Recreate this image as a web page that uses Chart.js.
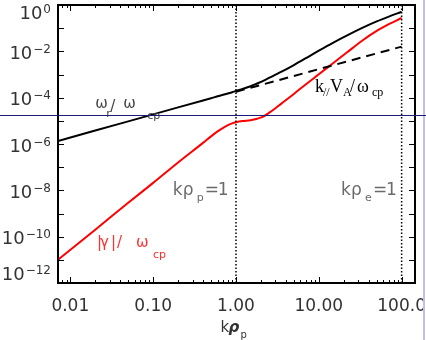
<!DOCTYPE html>
<html>
<head>
<meta charset="utf-8">
<script src="https://cdn.jsdelivr.net/npm/chart.js@4.4.1/dist/chart.umd.min.js"></script>
<style>
  html, body { margin: 0; padding: 0; background: #fff; }
  #wrap { width: 426px; height: 340px; position: relative; }
</style>
</head>
<body>
<div id="wrap"><canvas id="myChart"></canvas></div>
<script>
// k rho_p sampled along the curves
var kRho = [0.0071, 0.02, 0.05, 0.1, 0.2, 0.4, 0.5, 0.6, 0.7, 0.8, 0.9, 1.0, 1.2, 1.5, 1.8, 2.1, 2.5, 3.0, 3.5, 5, 7, 10, 15, 22, 33, 50, 70, 100];
// omega_r / omega_cp (black)
var omegaR = [1.35e-6, 3.8e-6, 9.5e-6, 1.9e-5, 3.8e-5, 7.6e-5, 9.5e-5, 1.15e-4, 1.33e-4, 1.52e-4, 1.72e-4, 1.95e-4, 2.35e-4, 3.1e-4, 4.1e-4, 5.2e-4, 7.1e-4, 9.8e-4, 1.29e-3, 2.57e-3, 5.1e-3, 1.07e-2, 2.4e-2, 4.9e-2, 0.10, 0.195, 0.316, 0.51];
// |gamma| / omega_cp (red)
var gammaAbs = [1.0e-11, 2.0e-10, 2.9e-9, 2.1e-8, 1.6e-7, 1.12e-6, 2.14e-6, 3.5e-6, 5.0e-6, 6.5e-6, 7.8e-6, 8.7e-6, 9.8e-6, 1.07e-5, 1.23e-5, 1.48e-5, 2.2e-5, 3.5e-5, 5.4e-5, 1.45e-4, 3.8e-4, 1.02e-3, 3.16e-3, 9.1e-3, 2.8e-2, 7.6e-2, 0.148, 0.275];
// k_par V_A / omega_cp (dashed)
var kPar = [1, 10, 100];
var kParVA = [1.8e-4, 1.7e-3, 1.6e-2];
// vertical markers k rho_p = 1 and k rho_e = 1
var markerK = [1, 100];
// horizontal reference line
var hLineValue = 1.8e-5;

var xTicks = [0.01, 0.1, 1, 10, 100];
var xTickLabels = ['0.01', '0.10', '1.00', '10.00', '100.0'];
var yDecades = [1, 1e-1, 1e-2, 1e-3, 1e-4, 1e-5, 1e-6, 1e-7, 1e-8, 1e-9, 1e-10, 1e-11, 1e-12];
var yTicks = [1, 1e-2, 1e-4, 1e-6, 1e-8, 1e-10, 1e-12];
var yTickExps = ['0', '\u22122', '\u22124', '\u22126', '\u22128', '\u221210', '\u221212'];

function pts(xs, ys) {
  var out = [];
  for (var i = 0; i < xs.length; i++) out.push({ x: xs[i], y: ys[i] });
  return out;
}

var datasets = [];
markerK.forEach(function (k) {
  datasets.push({
    data: [{ x: k, y: 1e-12 }, { x: k, y: 1 }],
    borderColor: '#000', borderWidth: 1.5, borderDash: [1.5, 2], pointRadius: 0
  });
});
datasets.push({ data: pts(kPar, kParVA), borderColor: '#000', borderWidth: 2, borderDash: [9, 6], pointRadius: 0 });
datasets.push({ data: pts(kRho, omegaR), borderColor: '#000', borderWidth: 2, pointRadius: 0, cubicInterpolationMode: 'monotone' });
datasets.push({ data: pts(kRho, gammaAbs), borderColor: '#ff0000', borderWidth: 2, pointRadius: 0, cubicInterpolationMode: 'monotone' });

// draws pieces of a label; offsets are relative to the anchor
function drawParts(ctx, x0, y0, parts, color) {
  ctx.fillStyle = color;
  ctx.textAlign = 'left';
  ctx.textBaseline = 'alphabetic';
  parts.forEach(function (p) {
    ctx.font = p.f;
    ctx.fillText(p.t, x0 + p.ox, y0 + (p.oy || 0));
  });
}

var decor = {
  id: 'decor',
  afterDraw: function (chart) {
    var ctx = chart.ctx, a = chart.chartArea, xs = chart.scales.x, ys = chart.scales.y;
    ctx.save();

    // inward tick marks
    ctx.strokeStyle = '#000';
    ctx.lineWidth = 1;
    ctx.beginPath();
    yDecades.forEach(function (v) {
      var py = Math.round(ys.getPixelForValue(v)) + 0.5;
      ctx.moveTo(a.left, py); ctx.lineTo(a.left + 6, py);
      ctx.moveTo(a.right - 6, py); ctx.lineTo(a.right, py);
    });
    [0.001, 0.01, 0.1, 1, 10, 100].forEach(function (d) {
      for (var m = 1; m <= 9; m++) {
        var v = m * d;
        if (v < xs.min || v > xs.max) continue;
        var px = Math.round(xs.getPixelForValue(v)) + 0.5;
        var len = m === 1 ? 6 : 3;
        ctx.moveTo(px, a.bottom); ctx.lineTo(px, a.bottom - len);
        ctx.moveTo(px, a.top); ctx.lineTo(px, a.top + len);
      }
    });
    ctx.stroke();

    // frame
    ctx.lineWidth = 2;
    ctx.strokeRect(a.left, a.top, a.right - a.left, a.bottom - a.top);

    // y labels 10^n
    ctx.fillStyle = '#333';
    ctx.textBaseline = 'alphabetic';
    ctx.textAlign = 'right';
    yTicks.forEach(function (v, i) {
      var py = ys.getPixelForValue(v) + 1;
      var yc = Math.min(Math.max(py, 12), 273);
      ctx.font = '12px "DejaVu Sans"';
      var w = ctx.measureText(yTickExps[i]).width;
      ctx.fillText(yTickExps[i], 51, yc + 0.5);
      ctx.font = '18px "DejaVu Sans"';
      ctx.fillText('10', 51 - w - 1, yc + 6.5);
    });

    // x axis title
    var tx = (a.left + a.right) / 2 - 16;
    drawParts(ctx, tx, 332, [
      { t: 'k', f: '15px "DejaVu Sans"', ox: 0 },
      { t: '\u03c1', f: 'bold italic 15px "DejaVu Sans"', ox: 8 },
      { t: 'p', f: '10px "DejaVu Sans"', ox: 20, oy: 6 }
    ], '#333');

    // curve labels
    drawParts(ctx, xs.getPixelForValue(0.02), ys.getPixelForValue(3.5e-5), [
      { t: '\u03c9', f: '15px "DejaVu Sans"', ox: 0 },
      { t: 'r', f: '11px "DejaVu Sans"', ox: 11, oy: 9 },
      { t: '/', f: '15px "DejaVu Sans"', ox: 15, oy: 3 },
      { t: '\u03c9', f: '15px "DejaVu Sans"', ox: 28 },
      { t: 'cp', f: '11px "DejaVu Sans"', ox: 52, oy: 11 }
    ], '#444');

    drawParts(ctx, xs.getPixelForValue(9.0), ys.getPixelForValue(1.76e-4), [
      { t: 'k', f: '18px "Liberation Serif"', ox: 0 },
      { t: '//', f: '12px "Liberation Serif"', ox: 8, oy: 4 },
      { t: 'V', f: '18px "Liberation Serif"', ox: 15 },
      { t: 'A', f: '12px "Liberation Serif"', ox: 28, oy: 4 },
      { t: '/', f: '18px "Liberation Serif"', ox: 35 },
      { t: '\u03c9', f: '18px "Liberation Serif"', ox: 42 },
      { t: 'cp', f: '12px "Liberation Serif"', ox: 57, oy: 4 }
    ], '#000');

    [[0.173, 'p'], [18.5, 'e']].forEach(function (m) {
      drawParts(ctx, xs.getPixelForValue(m[0]), ys.getPixelForValue(6.3e-9), [
        { t: 'k', f: '17px "DejaVu Sans"', ox: 0 },
        { t: '\u03c1', f: '17px "DejaVu Sans"', ox: 10 },
        { t: m[1], f: '11px "DejaVu Sans"', ox: 24, oy: 6 },
        { t: '=', f: '17px "DejaVu Sans"', ox: 32 },
        { t: '1', f: '17px "DejaVu Sans"', ox: 45 }
      ], '#6b6b6b');
    });

    drawParts(ctx, xs.getPixelForValue(0.021), ys.getPixelForValue(3.6e-11), [
      { t: '|', f: '15px "DejaVu Sans"', ox: 0 },
      { t: '\u03b3', f: '15px "DejaVu Sans"', ox: 3 },
      { t: '|', f: '15px "DejaVu Sans"', ox: 14 },
      { t: '/', f: '15px "DejaVu Sans"', ox: 20 },
      { t: '\u03c9', f: '15px "DejaVu Sans"', ox: 39 },
      { t: 'cp', f: '11px "DejaVu Sans"', ox: 56, oy: 11 }
    ], '#ff3030');

    // page edge strip and horizontal line
    ctx.fillStyle = '#c5bfe6';
    ctx.fillRect(423, 0, 2, chart.height);
    var hy = Math.round(ys.getPixelForValue(hLineValue)) + 0.5;
    ctx.strokeStyle = '#1c1c78';
    ctx.lineWidth = 1;
    ctx.beginPath();
    ctx.moveTo(0, hy); ctx.lineTo(chart.width, hy);
    ctx.stroke();

    ctx.restore();
  }
};

var config = {
  type: 'scatter',
  data: { datasets: datasets },
  options: {
    responsive: true,
    maintainAspectRatio: false,
    devicePixelRatio: 1,
    animation: false,
    showLine: true,
    layout: { padding: { left: 0, right: 11, top: 5, bottom: 0 } },
    plugins: { legend: { display: false }, tooltip: { enabled: false } },
    scales: {
      x: {
        type: 'logarithmic',
        min: 0.0071,
        max: 145,
        grid: { display: false, drawTicks: false },
        border: { display: false },
        ticks: {
          color: '#333',
          font: { family: 'DejaVu Sans', size: 17 },
          padding: 13,
          maxRotation: 0,
          autoSkip: false,
          callback: function (v, i) { return xTickLabels[i]; }
        },
        afterBuildTicks: function (s) { s.ticks = xTicks.map(function (v) { return { value: v }; }); },
        afterFit: function (s) { s.height = 57; s.paddingLeft = 0; s.paddingRight = 0; }
      },
      y: {
        type: 'logarithmic',
        min: 1e-12,
        max: 1,
        grid: { display: false, drawTicks: false },
        border: { display: false },
        ticks: { display: false },
        afterBuildTicks: function (s) { s.ticks = yTicks.map(function (v) { return { value: v }; }); },
        afterFit: function (s) { s.width = 58; s.paddingTop = 0; s.paddingBottom = 0; }
      }
    }
  },
  plugins: [decor]
};

var myChart = new Chart(document.getElementById('myChart'), config);
</script>
</body>
</html>
